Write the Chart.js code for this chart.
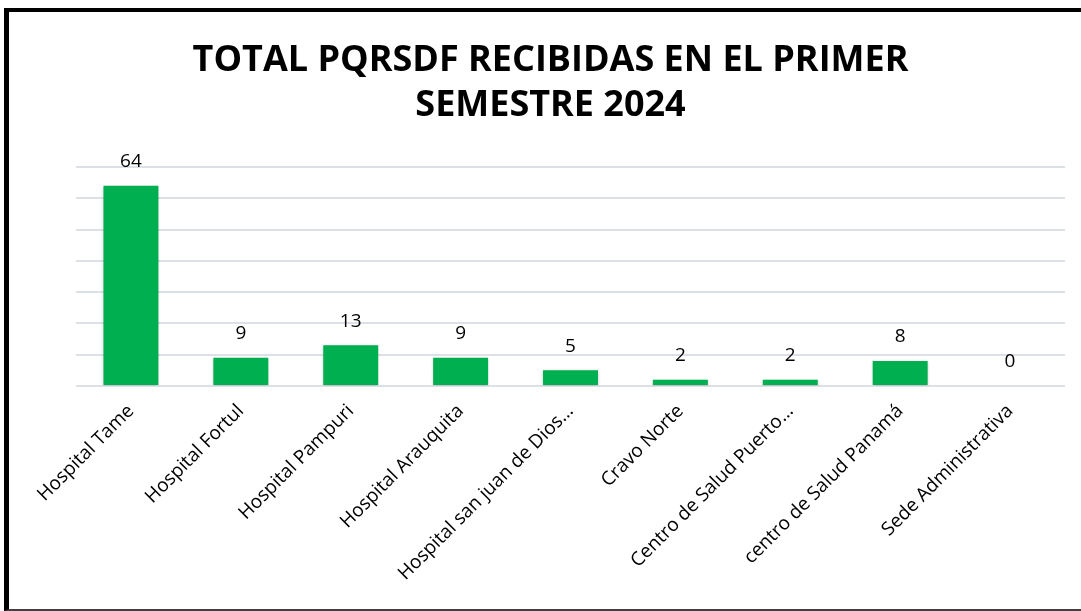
<!DOCTYPE html>
<html>
<head>
<meta charset="utf-8">
<script src="https://cdn.jsdelivr.net/npm/chart.js@4/dist/chart.umd.min.js"></script>
<style>
	html, body { margin: 0; padding: 0; background: #fff; overflow: hidden; }
	#frame {
		position: absolute;
		left: 4px;
		top: 8px;
		width: 1100px;
		height: 597px;
		border-left: 5px solid #000;
		border-top: 4px solid #000;
		border-bottom: 2px solid #404040;
	}
	#chart-wrap { position: absolute; left: 0; top: 0; width: 1072px; height: 597px; }
</style>
</head>
<body>
<div id="frame">
	<div id="chart-wrap"><canvas id="chart"></canvas></div>
</div>
<script>
(function () {
	'use strict';

	const CATEGORIES = [
		'Hospital Tame',
		'Hospital Fortul',
		'Hospital Pampuri',
		'Hospital Arauquita',
		'Hospital san juan de Dios…',
		'Cravo Norte',
		'Centro de Salud Puerto…',
		'centro de Salud Panamá',
		'Sede Administrativa',
	];
	const VALUES = [64, 9, 13, 9, 5, 2, 2, 8, 0];
	const TITLE_LINES = ['TOTAL PQRSDF RECIBIDAS EN EL PRIMER', 'SEMESTRE 2024'];

	const GREEN = '#00b050';
	const GRID = '#dde1e7';
	const FONT = "'Open Sans', sans-serif";

	// draws the value above each bar
	const valueLabels = {
		id: 'valueLabels',
		afterDatasetsDraw(chart) {
			const ctx = chart.ctx;
			const meta = chart.getDatasetMeta(0);
			ctx.save();
			ctx.fillStyle = '#000';
			ctx.font = '19px ' + FONT;
			ctx.textAlign = 'center';
			ctx.textBaseline = 'middle';
			meta.data.forEach((bar, i) => {
				ctx.fillText(String(VALUES[i]), bar.x, bar.y - 24);
			});
			ctx.restore();
		},
	};

	// soft shadow under the bars
	const barShadow = {
		id: 'barShadow',
		beforeDatasetDraw(chart) {
			const ctx = chart.ctx;
			ctx.save();
			ctx.shadowColor = 'rgba(0,0,0,0.25)';
			ctx.shadowBlur = 3;
			ctx.shadowOffsetY = 1;
		},
		afterDatasetDraw(chart) {
			chart.ctx.restore();
		},
	};

	new Chart(document.getElementById('chart'), {
		type: 'bar',
		data: {
			labels: CATEGORIES,
			datasets: [{
				data: VALUES,
				backgroundColor: GREEN,
				borderWidth: 0,
				categoryPercentage: 1,
				barPercentage: 0.5,
			}],
		},
		options: {
			responsive: true,
			maintainAspectRatio: false,
			animation: false,
			layout: { padding: { left: 27, right: 16, top: 26, bottom: 18 } },
			plugins: {
				legend: { display: false },
				tooltip: { enabled: false },
				title: {
					display: true,
					text: TITLE_LINES,
					color: '#000',
					font: { family: FONT, size: 36, weight: 'bold', lineHeight: 1.25 },
					padding: { top: 0, bottom: 39 },
				},
			},
			scales: {
				x: {
					grid: { display: false },
					border: { display: false },
					ticks: {
						color: '#000',
						font: { family: FONT, size: 19 },
						minRotation: 45,
						maxRotation: 45,
						autoSkip: false,
						padding: 6,
					},
				},
				y: {
					min: 0,
					max: 70,
					afterFit(axis) { axis.width = 40; },
					ticks: { stepSize: 10, display: false },
					grid: { color: GRID, lineWidth: 2, drawTicks: false },
					border: { display: false },
				},
			},
		},
		plugins: [barShadow, valueLabels],
	});
})();
</script>
</body>
</html>
